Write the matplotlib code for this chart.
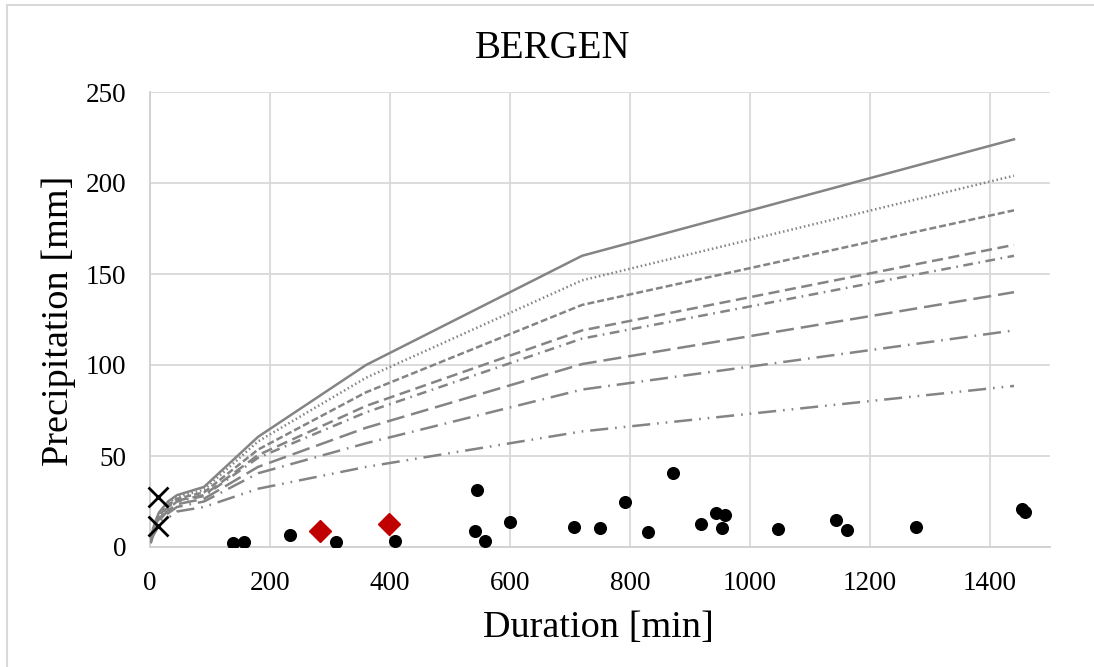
import matplotlib
matplotlib.use("Agg")
import matplotlib.pyplot as plt
from matplotlib.lines import Line2D

plt.rcParams['font.family'] = ['Liberation Serif', 'DejaVu Serif']
plt.rcParams['lines.scale_dashes'] = False

# IDF curve durations [min]
durations = [1, 5, 10, 15, 30, 45, 90, 180, 360, 720, 1440]

# IDF curves (precipitation in mm) - top to bottom
curve_1 = [3.0, 10.0, 15.0, 19.0, 25.0, 28.5, 33.0, 60.5, 100.0, 160.0, 224.0]
curve_2 = [3.0, 9.5, 14.0, 18.0, 24.0, 27.5, 31.5, 58.0, 93.0, 146.5, 204.0]
curve_3 = [2.8, 9.0, 13.0, 17.0, 23.0, 26.5, 30.0, 53.5, 85.0, 133.0, 185.0]
curve_4 = [2.7, 8.5, 12.5, 16.0, 22.0, 25.5, 28.5, 50.5, 77.5, 119.0, 166.0]
curve_5 = [2.6, 8.0, 12.0, 15.5, 21.0, 25.0, 28.0, 49.0, 74.0, 114.5, 160.0]
curve_6 = [2.5, 7.5, 11.0, 14.5, 20.0, 23.5, 26.5, 44.0, 65.5, 100.5, 140.0]
curve_7 = [2.3, 7.0, 10.0, 13.5, 18.5, 22.0, 25.0, 40.5, 57.0, 86.5, 119.0]
curve_8 = [2.0, 6.0, 9.0, 12.0, 16.0, 19.5, 22.0, 32.0, 44.0, 63.5, 88.5]

# observed events (black dots)
event_dur = [138, 157, 234, 310, 409, 545, 542, 559, 600, 706, 750, 792, 830,
             872, 919, 943, 958, 954, 1047, 1144, 1162, 1276, 1453, 1459]
event_mm = [2.0, 2.7, 6.4, 2.7, 3.3, 31.1, 8.6, 3.3, 13.7, 11.2, 10.3, 24.7, 8.0,
            40.8, 12.5, 18.7, 17.4, 10.3, 9.9, 14.8, 9.3, 11.2, 21.0, 19.2]

# highlighted events (red diamonds)
red_dur = [283, 398]
red_mm = [9.0, 12.6]

# short events (black crosses)
cross_dur = [14, 14]
cross_mm = [27.5, 11.5]

x_ticks = [0, 200, 400, 600, 800, 1000, 1200, 1400]
y_ticks = [0, 50, 100, 150, 200, 250]

W, H = 1094, 667
fig = plt.figure(figsize=(W / 100, H / 100), dpi=100)
ax = fig.add_axes([150 / W, 1 - 547 / H, 900 / W, 455 / H])

# partial chart-area border (top and left visible in the crop)
fig.add_artist(Line2D([7 / W, 1], [1 - 5 / H, 1 - 5 / H], color='#d9d9d9', lw=1.5,
                      transform=fig.transFigure))
fig.add_artist(Line2D([7 / W, 7 / W], [0, 1 - 5 / H], color='#d9d9d9', lw=1.5,
                      transform=fig.transFigure))

gray = '#848484'
styles = [
    '-',
    (0, (1.1, 2.0)),
    (0, (5, 2.2)),
    (0, (8, 4)),
    (0, (7, 4, 1.2, 4)),
    (0, (13, 5)),
    (0, (13, 5, 1.2, 5)),
    (0, (13, 5, 1.2, 5, 1.2, 5)),
]
curves = [curve_1, curve_2, curve_3, curve_4, curve_5, curve_6, curve_7, curve_8]
for c, ls in zip(curves, styles):
    ax.plot(durations, c, color=gray, lw=1.8, ls=ls, zorder=3,
            dash_capstyle='butt')

ax.plot(event_dur, event_mm, 'o', color='black', ms=8.4, ls='none', zorder=4)
ax.plot(red_dur, red_mm, 'D', color='#c00000', ms=11.5, ls='none', zorder=5)
ax.plot(cross_dur, cross_mm, 'x', color='black', ms=15, mew=2, ls='none',
        zorder=6, clip_on=False)

ax.set_xlim(0, 1500)
ax.set_ylim(0, 250)
ax.set_xticks(x_ticks)
ax.set_yticks(y_ticks)
ax.grid(True, color='#d9d9d9', lw=1.3, zorder=0)
ax.set_axisbelow(True)
for s in ['top', 'right']:
    ax.spines[s].set_visible(False)
for s in ['left', 'bottom']:
    ax.spines[s].set_color('#d0d0d0')
    ax.spines[s].set_linewidth(1.3)
ax.tick_params(length=0, labelsize=19.5)
ax.tick_params(axis='x', pad=17)
ax.tick_params(axis='y', pad=17)

fig.text(553 / W, 1 - 58 / H, 'BERGEN', fontsize=28, ha='center', va='baseline')
fig.text(598 / W, 1 - 637 / H, 'Duration [min]', fontsize=27.5, ha='center',
         va='baseline')
fig.text(58.5 / W, 1 - 321 / H, 'Precipitation [mm]', fontsize=27.5, ha='center',
         va='center', rotation=90)

fig.savefig('out.png', dpi=100)
